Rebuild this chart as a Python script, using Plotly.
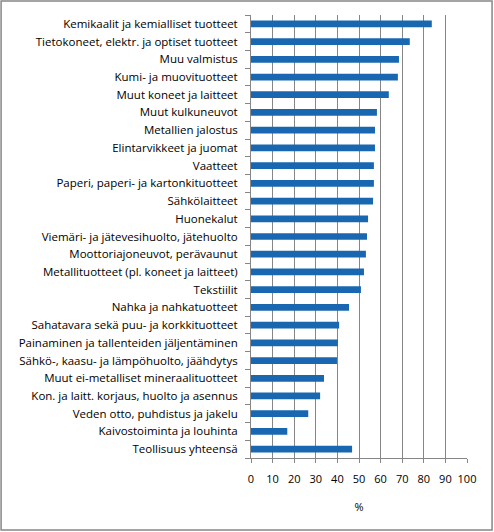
import plotly.graph_objects as go

# Toimialat ja arvot (%), ylhäältä alas kuten kuvassa
categories = [
    "Kemikaalit ja kemialliset tuotteet",
    "Tietokoneet, elektr. ja optiset tuotteet",
    "Muu valmistus",
    "Kumi- ja muovituotteet",
    "Muut koneet ja laitteet",
    "Muut kulkuneuvot",
    "Metallien jalostus",
    "Elintarvikkeet ja juomat",
    "Vaatteet",
    "Paperi, paperi- ja kartonkituotteet",
    "Sähkölaitteet",
    "Huonekalut",
    "Viemäri- ja jätevesihuolto, jätehuolto",
    "Moottoriajoneuvot, perävaunut",
    "Metallituotteet (pl. koneet ja laitteet)",
    "Tekstiilit",
    "Nahka ja nahkatuotteet",
    "Sahatavara sekä puu- ja korkkituotteet",
    "Painaminen ja tallenteiden jäljentäminen",
    "Sähkö-, kaasu- ja lämpöhuolto, jäähdytys",
    "Muut ei-metalliset mineraalituotteet",
    "Kon. ja laitt. korjaus, huolto ja asennus",
    "Veden otto, puhdistus ja jakelu",
    "Kaivostoiminta ja louhinta",
    "Teollisuus yhteensä",
]
values = [
    83.7, 73.5, 68.5, 68.0, 63.8, 58.3, 57.4, 57.4, 56.9, 56.9,
    56.5, 54.2, 53.7, 53.2, 52.3, 50.9, 45.4, 40.8, 40.2, 39.8,
    33.8, 32.0, 26.5, 16.8, 46.8,
]
x_ticks = list(range(0, 101, 10))

GRID = "#868686"
FONT = "Open Sans"

fig = go.Figure(go.Bar(
    x=values,
    y=categories,
    orientation="h",
    marker=dict(color="#1967B0", line=dict(width=0)),
))

fig.update_layout(
    width=494,
    height=532,
    margin=dict(l=251, r=27, t=15, b=74),
    paper_bgcolor="white",
    plot_bgcolor="white",
    bargap=0.62,
    showlegend=False,
    font=dict(family=FONT, size=11.5, color="black"),
)

fig.update_xaxes(
    range=[0, 100],
    tickvals=x_ticks,
    ticks="outside",
    ticklen=4,
    tickcolor=GRID,
    showgrid=True,
    gridcolor=GRID,
    gridwidth=1,
    showline=True,
    linecolor=GRID,
    zeroline=False,
    ticklabelstandoff=7,
    tickfont=dict(family=FONT, size=11),
    title=dict(text="%", font=dict(family=FONT, size=11), standoff=18),
)

fig.update_yaxes(
    type="category",
    categoryorder="array",
    categoryarray=categories[::-1],
    autorange=False,
    range=[-0.5, len(categories) - 0.5],
    tickson="boundaries",
    ticks="outside",
    ticklen=5,
    tickcolor=GRID,
    showgrid=False,
    showline=True,
    linecolor=GRID,
    ticklabelstandoff=10,
)

# kehys koko kuvan ympärille
fig.add_shape(
    type="rect", xref="paper", yref="paper",
    x0=-1.157, x1=1.116, y0=-0.1625, y1=1.0316,
    line=dict(color=GRID, width=1.5),
    fillcolor="rgba(0,0,0,0)",
)

# selaimen oletusmarginaali pois, jotta kuva alkaa sivun kulmasta
fig.write_html(
    "out.html",
    config={"displayModeBar": False},
    post_script="document.body.style.margin='0';",
)
